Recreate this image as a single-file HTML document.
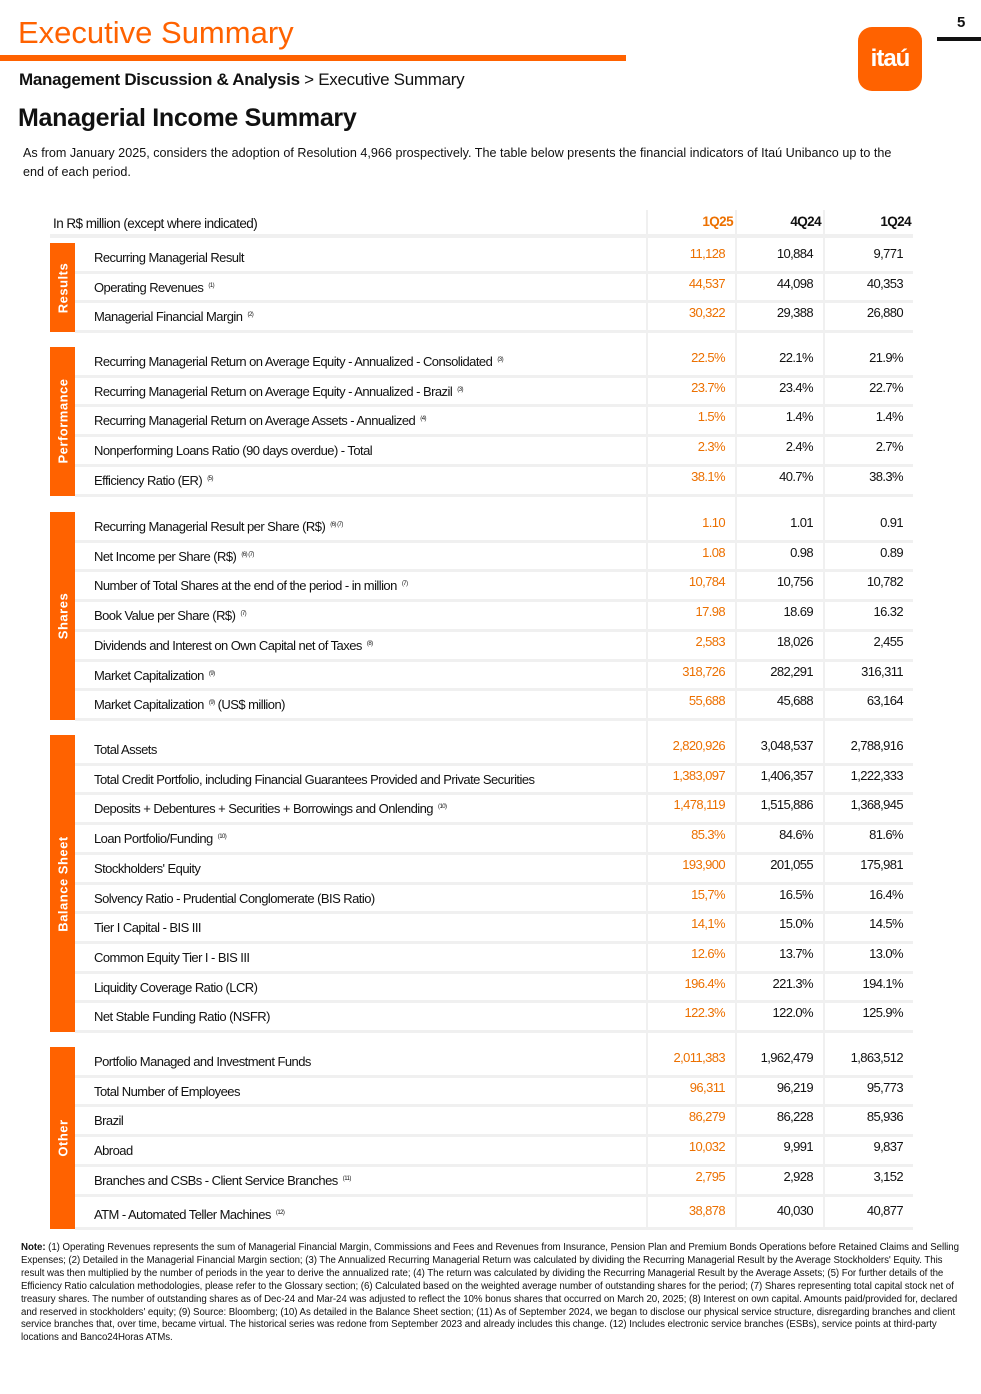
<!DOCTYPE html>
<html><head><meta charset="utf-8">
<style>
*{margin:0;padding:0;box-sizing:border-box}
body{width:981px;height:1394px;background:#fff;position:relative;overflow:hidden;font-family:"Liberation Sans",sans-serif;color:#111}
.abs{position:absolute;white-space:nowrap}
.or{color:#ec7000}
sup{font-size:6px;vertical-align:5px;margin-left:2px}
.lbl{position:absolute;left:94px;font-size:13px;letter-spacing:-0.55px;white-space:nowrap}
.val{position:absolute;font-size:13px;letter-spacing:-0.6px;text-align:right;width:80px}
.grp{position:absolute;left:50px;width:25px;background:#ff6200}
.gt{position:absolute;color:#fff;font-weight:bold;font-size:13px;letter-spacing:0.5px;white-space:nowrap;transform:translate(-50%,-50%) rotate(-90deg);left:50%;top:50%}
.sep{position:absolute;left:75px;width:838px;height:3px;background:#f0f0f0}
.vs{position:absolute;width:2px;background:#f0f0f0}
.note{position:absolute;left:21px;top:1242px;width:940px;font-size:9.7px;line-height:12.9px;letter-spacing:-0.05px;color:#111}
</style></head><body>
<div class="abs or" style="left:18px;top:15px;font-size:31px;color:#ff6200">Executive Summary</div>
<div class="abs" style="left:0;top:55px;width:626px;height:6px;background:#ff6200"></div>
<div class="abs" style="left:19px;top:70px;font-size:17px;letter-spacing:-0.3px"><b>Management Discussion &amp; Analysis</b> &gt; Executive Summary</div>
<div class="abs" style="left:18px;top:104px;font-size:25px;font-weight:bold;letter-spacing:-0.3px">Managerial Income Summary</div>
<div class="abs" style="left:23px;top:144px;font-size:12.6px;line-height:19px;white-space:normal;width:890px;letter-spacing:0">As from January 2025, considers the adoption of Resolution 4,966 prospectively. The table below presents the financial indicators of Itaú Unibanco up to the end of each period.</div>
<div class="abs" style="left:858px;top:27px;width:64px;height:64px;background:#ff6200;border-radius:14px;color:#fff;font-weight:bold;font-size:24px;text-align:center;line-height:64px;letter-spacing:-1px">itaú</div>
<div class="abs" style="left:957px;top:14px;font-size:15px;font-weight:bold">5</div>
<div class="abs" style="left:937px;top:37px;width:44px;height:4px;background:#111"></div>

<div id="table"></div>

<div class="note"><b>Note:</b> (1) Operating Revenues represents the sum of Managerial Financial Margin, Commissions and Fees and Revenues from Insurance, Pension Plan and Premium Bonds Operations before Retained Claims and Selling Expenses; (2) Detailed in the Managerial Financial Margin section; (3) The Annualized Recurring Managerial Return was calculated by dividing the Recurring Managerial Result by the Average Stockholders' Equity. This result was then multiplied by the number of periods in the year to derive the annualized rate; (4) The return was calculated by dividing the Recurring Managerial Result by the Average Assets; (5) For further details of the Efficiency Ratio calculation methodologies, please refer to the Glossary section; (6) Calculated based on the weighted average number of outstanding shares for the period; (7) Shares representing total capital stock net of treasury shares. The number of outstanding shares as of Dec-24 and Mar-24 was adjusted to reflect the 10% bonus shares that occurred on March 20, 2025; (8) Interest on own capital. Amounts paid/provided for, declared and reserved in stockholders' equity; (9) Source: Bloomberg; (10) As detailed in the Balance Sheet section; (11) As of September 2024, we began to disclose our physical service structure, disregarding branches and client service branches that, over time, became virtual. The historical series was redone from September 2023 and already includes this change. (12) Includes electronic service branches (ESBs), service points at third-party locations and Banco24Horas ATMs.</div>

<script>
const periods=["1Q25","4Q24","1Q24"];
const groupNames=["Results","Performance","Shares","Balance Sheet","Other"];
const groupTops=[243,347,512,735,1047];
const rowLabels=[
["Recurring Managerial Result","Operating Revenues <sup>(1)</sup>","Managerial Financial Margin <sup>(2)</sup>"],
["Recurring Managerial Return on Average Equity - Annualized - Consolidated <sup>(3)</sup>","Recurring Managerial Return on Average Equity - Annualized - Brazil <sup>(3)</sup>","Recurring Managerial Return on Average Assets - Annualized <sup>(4)</sup>","Nonperforming Loans Ratio (90 days overdue) - Total","Efficiency Ratio (ER) <sup>(5)</sup>"],
["Recurring Managerial Result per Share (R$) <sup>(6) (7)</sup>","Net Income per Share (R$) <sup>(6) (7)</sup>","Number of Total Shares at the end of the period - in million <sup>(7)</sup>","Book Value per Share (R$) <sup>(7)</sup>","Dividends and Interest on Own Capital net of Taxes <sup>(8)</sup>","Market Capitalization <sup>(9)</sup>","Market Capitalization <sup>(9)</sup> (US$ million)"],
["Total Assets","Total Credit Portfolio, including Financial Guarantees Provided and Private Securities","Deposits + Debentures + Securities + Borrowings and Onlending <sup>(10)</sup>","Loan Portfolio/Funding <sup>(10)</sup>","Stockholders' Equity","Solvency Ratio - Prudential Conglomerate (BIS Ratio)","Tier I Capital - BIS III","Common Equity Tier I - BIS III","Liquidity Coverage Ratio (LCR)","Net Stable Funding Ratio (NSFR)"],
["Portfolio Managed and Investment Funds","Total Number of Employees","Brazil","Abroad","Branches and CSBs - Client Service Branches <sup>(11)</sup>","ATM - Automated Teller Machines <sup>(12)</sup>"]];
const vals1Q25=[["11,128","44,537","30,322"],["22.5%","23.7%","1.5%","2.3%","38.1%"],["1.10","1.08","10,784","17.98","2,583","318,726","55,688"],["2,820,926","1,383,097","1,478,119","85.3%","193,900","15,7%","14,1%","12.6%","196.4%","122.3%"],["2,011,383","96,311","86,279","10,032","2,795","38,878"]];
const vals4Q24=[["10,884","44,098","29,388"],["22.1%","23.4%","1.4%","2.4%","40.7%"],["1.01","0.98","10,756","18.69","18,026","282,291","45,688"],["3,048,537","1,406,357","1,515,886","84.6%","201,055","16.5%","15.0%","13.7%","221.3%","122.0%"],["1,962,479","96,219","86,228","9,991","2,928","40,030"]];
const vals1Q24=[["9,771","40,353","26,880"],["21.9%","22.7%","1.4%","2.7%","38.3%"],["0.91","0.89","10,782","16.32","2,455","316,311","63,164"],["2,788,916","1,222,333","1,368,945","81.6%","175,981","16.4%","14.5%","13.0%","194.1%","125.9%"],["1,863,512","95,773","85,936","9,837","3,152","40,877"]];
const RH=29.7;
const colRight=[725,813,903];
const T=document.getElementById('table');
function mk(cls,style,html){const d=document.createElement('div');d.className=cls;d.setAttribute('style',style);if(html!==undefined)d.innerHTML=html;T.appendChild(d);return d;}
let h=mk('lbl','left:53px;top:216px;font-size:13.5px','In R$ million (except where indicated)');


periods.forEach((p,i)=>{const d=mk('val',`left:${colRight[i]+8-80}px;top:214px;font-size:13.5px;font-weight:bold;${i==0?'color:#ec7000':''}`,p);

});
let hs=mk('sep','left:50px;width:863px;top:234px;height:4px');


const vsx=[646,735,823];
vsx.forEach(x=>{const v=mk('vs',`left:${x}px;top:210px;height:1018px`);

});
groupNames.forEach((g,gi)=>{
 const top=groupTops[gi],n=rowLabels[gi].length,hgt=n*RH+(gi==4?4:0);
 const b=mk('grp',`top:${top}px;height:${hgt}px`);
 
 
 const t=document.createElement('div');t.className='gt';t.textContent=g;b.appendChild(t);
 rowLabels[gi].forEach((l,ri)=>{
  const y=top+ri*RH+(gi==4&&ri==5?4:0);
  const L=mk('lbl',`top:${y+7}px`,l);
  
  
  [vals1Q25,vals4Q24,vals1Q24].forEach((arr,ci)=>{
   const V=mk('val',`left:${colRight[ci]-80}px;top:${y+3}px;${ci==0?'color:#ec7000':''}`,arr[gi][ri]);
   
   
  });
  const s=mk('sep',`top:${y+RH-2}px`);
  
  
 });
});
</script>
</body></html>
